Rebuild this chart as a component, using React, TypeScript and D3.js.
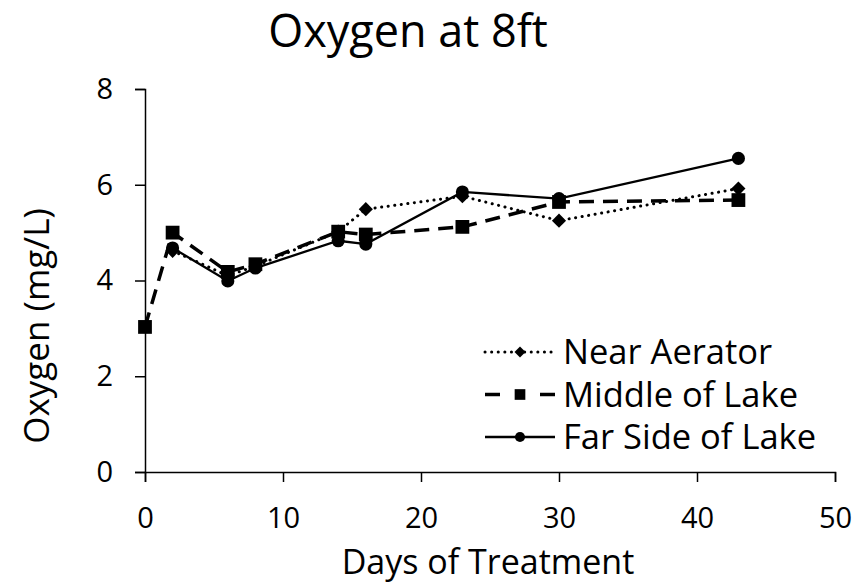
import React, { useEffect, useRef } from 'react';
import * as d3 from 'd3';

// days sampled for each site
const daysAll = [0, 2, 6, 8, 14, 16, 23, 30, 43];
const daysLater = [2, 6, 8, 14, 16, 23, 30, 43];

const nearAerator = [4.62, 4.1, 4.3, 5.02, 5.49, 5.76, 5.25, 5.92];
const middleOfLake = [3.03, 5.0, 4.18, 4.34, 5.02, 4.96, 5.12, 5.64, 5.68];
const farSide = [4.68, 3.99, 4.26, 4.83, 4.76, 5.85, 5.71, 6.55];

const xTicks = [0, 10, 20, 30, 40, 50];
const yTicks = [0, 2, 4, 6, 8];

const seriesNames = ['Near Aerator', 'Middle of Lake', 'Far Side of Lake'];

const FONT = "'Open Sans', 'Noto Sans', sans-serif";

const App = () => {
  const svgRef = useRef<SVGSVGElement>(null);

  useEffect(() => {
    const width = 866;
    const height = 583;
    const svg = d3.select(svgRef.current);
    svg.selectAll('*').remove();

    const x = d3.scaleLinear().domain([0, 50]).range([145, 835]);
    const y = d3.scaleLinear().domain([0, 8]).range([472, 89]);

    const series = [
      { name: seriesNames[0], days: daysLater, vals: nearAerator, dash: '0.1,6.5', cap: 'round', w: 3, shape: d3.symbolSquare, size: 100, rot: 45 },
      { name: seriesNames[1], days: daysAll, vals: middleOfLake, dash: '15,9', cap: 'butt', w: 3.5, shape: d3.symbolSquare, size: 190, rot: 0 },
      { name: seriesNames[2], days: daysLater, vals: farSide, dash: null, cap: 'butt', w: 2.3, shape: d3.symbolCircle, size: 135, rot: 0 },
    ];

    // axes
    const yAxis = svg.append('g')
      .attr('transform', 'translate(145,0)')
      .call(d3.axisLeft(y).tickValues(yTicks).tickSize(10).tickPadding(22));
    const xAxis = svg.append('g')
      .attr('transform', 'translate(0,472)')
      .call(d3.axisBottom(x).tickValues(xTicks).tickSize(10).tickPadding(25));
    [xAxis, yAxis].forEach(g => {
      g.select('.domain').attr('stroke', '#000').attr('stroke-width', 1.5);
      g.selectAll('.tick line').attr('stroke', '#000').attr('stroke-width', 1.5);
      g.selectAll('.tick text').attr('font-family', FONT).attr('font-size', 29).attr('fill', '#000');
    });

    // lines
    series.forEach(s => {
      const pts = s.days.map((d, i) => [d, s.vals[i]] as [number, number]);
      const line = d3.line<[number, number]>().x(d => x(d[0])).y(d => y(d[1]));
      svg.append('path')
        .attr('d', line(pts))
        .attr('fill', 'none')
        .attr('stroke', '#000')
        .attr('stroke-width', s.w)
        .attr('stroke-linecap', s.cap)
        .attr('stroke-dasharray', s.dash);
      svg.append('g').selectAll('path')
        .data(pts)
        .enter()
        .append('path')
        .attr('transform', d => `translate(${x(d[0])},${y(d[1])}) rotate(${s.rot})`)
        .attr('d', d3.symbol().type(s.shape).size(s.size)())
        .attr('fill', '#000');
    });

    // legend
    const leg = svg.append('g').attr('transform', 'translate(485,352)');
    series.forEach((s, i) => {
      const row = leg.append('g').attr('transform', `translate(0,${i * 42.5})`);
      if (s.dash && i === 1) {
        row.append('line').attr('x1', 0).attr('x2', 15).attr('stroke', '#000').attr('stroke-width', s.w);
        row.append('line').attr('x1', 55).attr('x2', 70).attr('stroke', '#000').attr('stroke-width', s.w);
      } else {
        row.append('line').attr('x1', 0).attr('x2', 70)
          .attr('stroke', '#000')
          .attr('stroke-width', s.w)
          .attr('stroke-linecap', s.cap)
          .attr('stroke-dasharray', s.dash);
      }
      row.append('path')
        .attr('transform', `translate(35,0) rotate(${s.rot})`)
        .attr('d', d3.symbol().type(s.shape).size(s.size * 0.6)())
        .attr('fill', '#000');
      row.append('text')
        .attr('x', 78)
        .attr('y', 0)
        .attr('dy', '0.36em')
        .attr('font-family', FONT)
        .attr('font-size', 34.5)
        .text(s.name);
    });

    // titles
    svg.append('text')
      .attr('x', 408).attr('y', 47)
      .attr('text-anchor', 'middle')
      .attr('font-family', FONT)
      .attr('font-size', 45)
      .text('Oxygen at 8ft');
    svg.append('text')
      .attr('x', 488).attr('y', 562)
      .attr('dy', '0.36em')
      .attr('text-anchor', 'middle')
      .attr('font-family', FONT)
      .attr('font-size', 34)
      .text('Days of Treatment');
    svg.append('text')
      .attr('transform', 'translate(36,326) rotate(-90)')
      .attr('dy', '0.36em')
      .attr('text-anchor', 'middle')
      .attr('font-family', FONT)
      .attr('font-size', 35)
      .text('Oxygen (mg/L)');

    svg.attr('width', width).attr('height', height);
  }, []);

  return (
    <div style={{ position: 'absolute', left: 0, top: 0 }}>
      <svg ref={svgRef} style={{ display: 'block' }}></svg>
    </div>
  );
};

export default App;
